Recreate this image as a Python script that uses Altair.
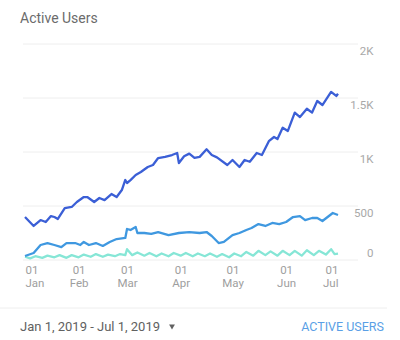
import altair as alt
import pandas as pd

# ---- data ----
dark_dates = ["2019-01-01","2019-01-06","2019-01-10","2019-01-13","2019-01-16","2019-01-18","2019-01-20",
              "2019-01-24","2019-01-28","2019-01-31","2019-02-04","2019-02-06","2019-02-10","2019-02-13",
              "2019-02-16","2019-02-20","2019-02-23","2019-02-26","2019-02-28","2019-03-01","2019-03-03",
              "2019-03-06","2019-03-09","2019-03-13","2019-03-16","2019-03-19","2019-03-23","2019-03-27",
              "2019-03-30","2019-03-31","2019-04-03","2019-04-06","2019-04-09","2019-04-12","2019-04-16",
              "2019-04-19","2019-04-22","2019-04-28","2019-05-01","2019-05-05","2019-05-08","2019-05-11",
              "2019-05-15","2019-05-18","2019-05-22","2019-05-25","2019-05-27","2019-05-30","2019-06-02",
              "2019-06-06","2019-06-09","2019-06-13","2019-06-16","2019-06-19","2019-06-22","2019-06-27",
              "2019-06-30","2019-07-01"]
dark_vals = [398, 315, 370, 352, 407, 398, 380,
             481, 491, 537, 583, 583, 537, 574,
             555, 611, 583, 648, 741, 713, 740,
             787, 815, 861, 880, 944, 954, 972,
             991, 898, 960, 985, 945, 955, 1025,
             972, 950, 880, 926, 861, 926, 910,
             991, 972, 1100, 1139, 1120, 1225, 1195,
             1365, 1324, 1400, 1365, 1472, 1435, 1556,
             1519, 1540]

mid_dates = ["2019-01-01","2019-01-06","2019-01-10","2019-01-14","2019-01-18","2019-01-22","2019-01-25",
             "2019-01-30","2019-02-02","2019-02-04","2019-02-07","2019-02-11","2019-02-15","2019-02-19",
             "2019-02-23","2019-02-28","2019-03-01","2019-03-03","2019-03-06","2019-03-07","2019-03-11",
             "2019-03-15","2019-03-19","2019-03-25","2019-03-31","2019-04-06","2019-04-12","2019-04-16",
             "2019-04-19","2019-04-23","2019-04-26","2019-05-01","2019-05-05","2019-05-09","2019-05-12",
             "2019-05-16","2019-05-20","2019-05-24","2019-05-28","2019-06-01","2019-06-05","2019-06-09",
             "2019-06-12","2019-06-16","2019-06-19","2019-06-22","2019-06-25","2019-06-28","2019-07-01"]
mid_vals = [37, 65, 139, 157, 139, 120, 157,
            157, 139, 167, 139, 157, 130, 167,
            194, 204, 287, 278, 306, 250, 250,
            241, 259, 231, 250, 259, 250, 259,
            222, 157, 167, 231, 250, 278, 296,
            333, 315, 343, 333, 352, 398, 407,
            370, 389, 389, 361, 398, 435, 417]

teal_dates = ["2019-01-01","2019-01-04","2019-01-07","2019-01-11","2019-01-14","2019-01-18","2019-01-21",
              "2019-01-25","2019-01-28","2019-02-01","2019-02-04","2019-02-08","2019-02-11","2019-02-15",
              "2019-02-18","2019-02-22","2019-02-25","2019-02-28","2019-03-01","2019-03-04","2019-03-07",
              "2019-03-11","2019-03-14","2019-03-18","2019-03-21","2019-03-25","2019-03-28","2019-04-01",
              "2019-04-04","2019-04-08","2019-04-11","2019-04-15","2019-04-18","2019-04-22","2019-04-25",
              "2019-04-29","2019-05-02","2019-05-06","2019-05-09","2019-05-13","2019-05-16","2019-05-20",
              "2019-05-23","2019-05-27","2019-05-30","2019-06-03","2019-06-06","2019-06-10","2019-06-13",
              "2019-06-17","2019-06-20","2019-06-24","2019-06-27","2019-06-29","2019-07-01"]
teal_vals = [30, 15, 35, 20, 40, 25, 45,
             20, 45, 25, 50, 30, 55, 30,
             50, 35, 55, 45, 100, 45, 70,
             40, 65, 35, 60, 35, 65, 40,
             65, 35, 60, 35, 60, 30, 55,
             25, 60, 35, 75, 40, 85, 45,
             80, 40, 85, 45, 85, 40, 90,
             45, 85, 50, 100, 55, 60]

grid_vals = [0, 500, 1000, 1500, 2000]

series_names = ["1 Day", "7 Days", "28 Days"]
series_colors = ["#86e6d6", "#3f98e0", "#3b5fd6"]

rows = []
for d, v in zip(teal_dates, teal_vals):
    rows.append({"date": d, "users": v, "series": "1 Day"})
for d, v in zip(mid_dates, mid_vals):
    rows.append({"date": d, "users": v, "series": "7 Days"})
for d, v in zip(dark_dates, dark_vals):
    rows.append({"date": d, "users": v, "series": "28 Days"})
df = pd.DataFrame(rows)

FONT = "Roboto"

x_dom = [alt.DateTime(year=2019, month=1, date=1, utc=True),
         alt.DateTime(year=2019, month=7, date=1, utc=True)]
x_ticks = [alt.DateTime(year=2019, month=m, date=1, utc=True) for m in range(1, 8)]

y_scale = alt.Scale(domain=[0, 2000], nice=False)
y_axis = alt.Axis(orient="right", values=grid_vals, title=None, domain=False, ticks=False,
                  tickSize=0, grid=False, labelAlign="right", labelPadding=35,
                  labelBaseline="middle",
                  labelOffset={"condition": {"test": "datum.value === 0", "value": -7}, "value": 7},
                  labelFont=FONT, labelFontSize=11.5, labelColor="#a8a8a8",
                  labelExpr="datum.value >= 1000 ? format(datum.value / 1000, '~g') + 'K' : format(datum.value, 'd')")

grid = alt.Chart(pd.DataFrame({"v": grid_vals})).mark_rule(color="#eeeeee", strokeWidth=1).encode(
    y=alt.Y("v:Q", scale=y_scale, axis=y_axis),
    x=alt.value(-2),
    x2=alt.value(333),
)

lines = alt.Chart(df).mark_line(strokeWidth=2.3, strokeJoin="round").encode(
    x=alt.X("date:T", scale=alt.Scale(type="utc", domain=x_dom),
            axis=alt.Axis(values=x_ticks, title=None, domain=False, ticks=False, grid=False,
                          labelFlush=True, labelPadding=4, labelLineHeight=13,
                          labelFont=FONT, labelFontSize=11.5, labelColor="#9e9e9e",
                          labelExpr="[utcFormat(datum.value, '%d'), utcFormat(datum.value, '%b')]")),
    y=alt.Y("users:Q", scale=y_scale, axis=y_axis),
    color=alt.Color("series:N", scale=alt.Scale(domain=series_names, range=series_colors), legend=None),
    order=alt.Order("series:N"),
)

one = alt.Data(values=[{}])

title = alt.Chart(one).mark_text(text="Active Users", align="left", baseline="middle",
                                 font=FONT, fontSize=14, color="#6b6b6b").encode(
    x=alt.value(-5), y=alt.value(-25))

sep = alt.Chart(one).mark_rule(color="#eeeeee", strokeWidth=1).encode(
    x=alt.value(-25), x2=alt.value(362), y=alt.value(264))

footer_left = alt.Chart(one).mark_text(text="Jan 1, 2019 - Jul 1, 2019", align="left", baseline="middle",
                                       font=FONT, fontSize=13, color="#616161").encode(
    x=alt.value(-5), y=alt.value(283))

arrow = alt.Chart(one).mark_point(shape="triangle-down", filled=True, size=34, color="#616161",
                                  opacity=1).encode(x=alt.value(147), y=alt.value(283))

footer_right = alt.Chart(one).mark_text(text="ACTIVE USERS", align="right", baseline="middle",
                                        font=FONT, fontSize=12.5, color="#5a9fe6").encode(
    x=alt.value(359), y=alt.value(283))

chart = alt.layer(grid, lines, title, sep, footer_left, arrow, footer_right).properties(
    width=313, height=216,
    autosize=alt.AutoSizeParams(type="none"),
    padding={"left": 25, "top": 44, "right": 62, "bottom": 80},
    background="white",
).configure_view(stroke=None)

chart.save("out.html", embed_options={"renderer": "svg", "actions": False})
